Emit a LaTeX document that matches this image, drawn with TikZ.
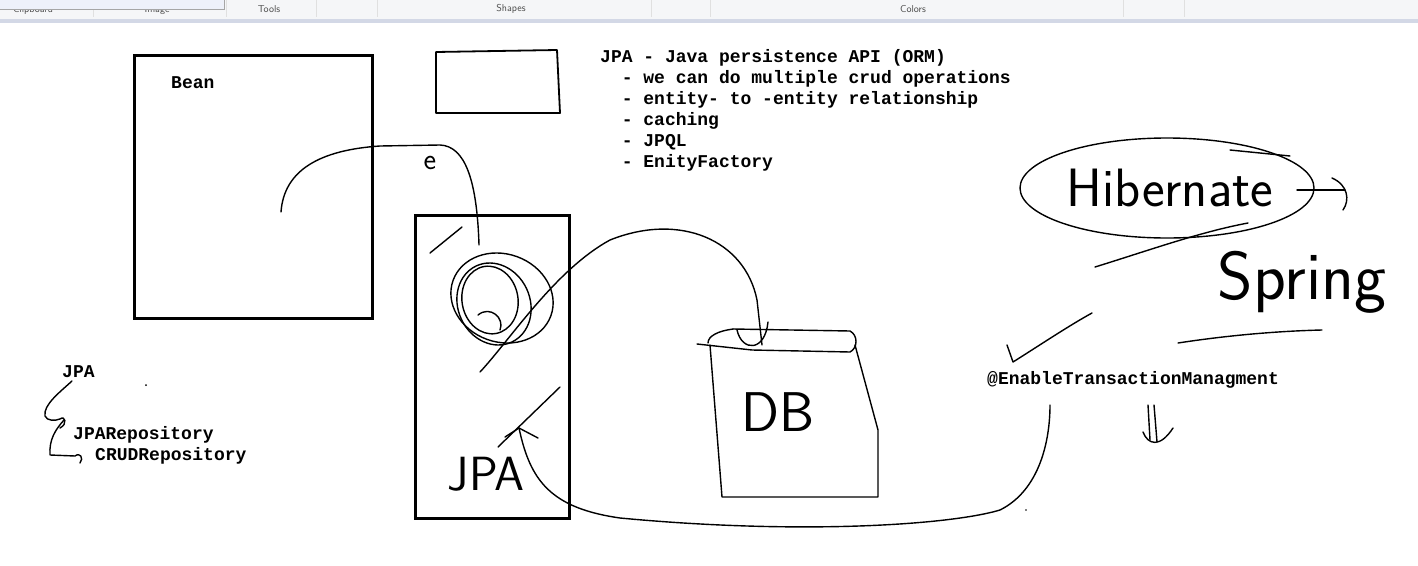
\documentclass[tikz,border=0pt]{standalone}
\usepackage{fontspec}
\setmonofont{Liberation Mono}
\usetikzlibrary{positioning}

\definecolor{barbg}{HTML}{F5F6F8}
\definecolor{barline}{HTML}{D3D8E6}
\definecolor{popbg}{HTML}{EEF1FA}

\tikzset{
  box/.style={draw, line width=3pt, inner sep=0pt},
  pen/.style={line width=1.4pt, line cap=round, line join=round},
  mono/.style={font=\ttfamily\bfseries\fontsize{18}{21}\selectfont, inner sep=0pt, anchor=base west},
  hand/.style={font=\sffamily\fontsize{#1}{#1}\selectfont, inner sep=0pt},
  barlabel/.style={font=\sffamily\fontsize{10}{11}\selectfont, text=black!70, inner sep=0pt},
}

\begin{document}
\begin{tikzpicture}[x=1pt, y=-1pt]
  \useasboundingbox (0,0) rectangle (1418,565);
  \fill[white] (0,0) rectangle (1418,565);

  % paint ribbon at the top
  \fill[barbg] (0,0) rectangle (1418,19);
  \fill[barline] (0,19) rectangle (1418,23);
  \foreach \sx in {93,226,316,377,651,710,1123,1184}
    \draw[black!12] (\sx,0) -- (\sx,17);
  \node[barlabel] (clip) at (33,10) {Clipboard};
  \node[barlabel] (img) at (157,10) {Image};
  \node[barlabel] (tools) at (269,9) {Tools};
  \node[barlabel] (shapes) at (511,9) {Shapes};
  \node[barlabel] (colors) at (913,9) {Colors};
  \filldraw[fill=popbg, draw=black!35] (-1,-1) rectangle (224,9);

  % boxes
  \node[box, minimum width=238pt, minimum height=263pt] (beanbox) at (253,186.5) {};
  \node[box, minimum width=154pt, minimum height=303pt] (jpabox) at (492,366.5) {};
  \draw[pen, line width=1.8pt] (436,52) -- (557,50) -- (560,113) -- (436,113) -- cycle;

  % typed text
  \node[mono] (bean) at (171,88) {Bean};
  \foreach \n/\t in {1/{JPA - Java persistence API (ORM)},
                     2/{\hspace*{21.6pt}- we can do multiple crud operations},
                     3/{\hspace*{21.6pt}- entity- to -entity relationship},
                     4/{\hspace*{21.6pt}- caching},
                     5/{\hspace*{21.6pt}- JPQL},
                     6/{\hspace*{21.6pt}- EnityFactory}}
    \node[mono] (jpa\n) at (600,{41+21*\n}) {\t};
  \node[mono] (jpa) at (62,377) {JPA};
  \node[mono] (jparepo) at (73,439) {JPARepository};
  \node[mono] (crudrepo) at (95,460) {CRUDRepository};
  \node[mono] (enable) at (987,384) {@EnableTransactionManagment};

  % handwriting
  \node[hand=30] (e) at (430,163) {e};
  \node[hand=48] (jpahand) at (486,474) {JPA};
  \node[hand=56] (db) at (778,412) {DB};
  \node[hand=54] (hib) at (1170,188) {Hibernate};
  \node[hand=68] (spring) at (1302,282) {Spring};

  % bean -> jpa box
  \draw[pen] (281,212) .. controls (284,170) and (320,150) .. (380,146) -- (440,145)
    .. controls (465,146) and (477,180) .. (479,245);
  \draw[pen] (430,253) -- (462,227);

  % scribble in the jpa box
  \draw[pen, rotate around={-20:(502,298)}] (502,298) ellipse [x radius=52, y radius=44];
  \draw[pen, rotate around={25:(494,304)}] (494,304) ellipse [x radius=36, y radius=42];
  \draw[pen, rotate around={10:(490,300)}] (490,300) ellipse [x radius=28, y radius=34];
  \draw[pen] (478,315) .. controls (490,305) and (505,318) .. (500,330);

  % jpa box -> db
  \draw[pen] (480,372) .. controls (510,340) and (555,270) .. (610,240)
    .. controls (680,212) and (745,240) .. (757,300) -- (762,345);
  \draw[pen] (737,330) .. controls (742,352) and (765,352) .. (768,322);

  % db cylinder
  \draw[pen] (733,329) -- (850,331) .. controls (858,335) and (858,348) .. (850,352)
    -- (752,350) -- (697,344);
  \draw[pen] (733,329) .. controls (718,331) and (708,336) .. (708,343);
  \draw[pen] (710,345) -- (722,497) -- (878,497) -- (878,430) -- (855,345);

  % lower arrow and long curve
  \draw[pen] (498,447) -- (560,387);
  \draw[pen] (505,437) -- (519,428) -- (538,438);
  \draw[pen] (519,428) .. controls (530,480) and (550,508) .. (620,518)
    .. controls (800,535) and (950,525) .. (1000,510)
    .. controls (1040,490) and (1050,440) .. (1050,405);

  % hibernate / spring
  \draw[pen] (1167,188) ellipse [x radius=147, y radius=50];
  \draw[pen] (1230,150) -- (1290,156);
  \draw[pen] (1297,190) -- (1345,190);
  \draw[pen] (1332,178) .. controls (1348,185) and (1350,200) .. (1343,210);
  \draw[pen] (1095,267) .. controls (1150,250) and (1200,232) .. (1248,223);
  \draw[pen] (1178,343) .. controls (1230,335) and (1280,331) .. (1322,330);
  \draw[pen] (1007,345) -- (1013,362) .. controls (1040,345) and (1070,325) .. (1092,313);
  \draw[pen] (1148,405) -- (1150,440);
  \draw[pen] (1154,405) -- (1157,442);
  \draw[pen] (1143,432) .. controls (1148,445) and (1160,448) .. (1173,428);

  % jpa hierarchy arrows
  \draw[pen] (72,381) .. controls (60,392) and (43,405) .. (45,416)
    .. controls (47,421) and (55,421) .. (60,419) .. controls (65,415) and (68,424) .. (60,428);
  \draw[pen] (64,420) .. controls (55,430) and (49,440) .. (50,455) -- (75,456)
    .. controls (80,452) and (84,458) .. (80,463);

  % stray dots
  \fill (146,385) circle (1);
  \fill (1026,510) circle (0.8);
\end{tikzpicture}
\end{document}
